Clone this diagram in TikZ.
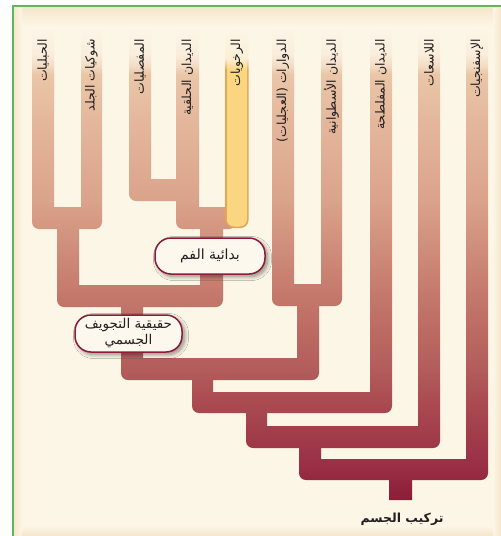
\documentclass[tikz,border=0pt]{standalone}
\usepackage{fontspec}
\newfontfamily\arabicfont[Script=Arabic]{DejaVu Sans}
\TeXXeTstate=1
\usetikzlibrary{shadows.blur}
\definecolor{framegreen}{HTML}{5CB85C}
\definecolor{paper}{HTML}{FCF6E6}
\definecolor{paperedge}{HTML}{F5E5C9}
\definecolor{boxred}{HTML}{8E1B3C}
\definecolor{boxfill}{HTML}{FDF8EE}
\definecolor{inktext}{HTML}{231F20}
\definecolor{cladetop}{HTML}{FCF5E6}
\definecolor{cladewhite}{HTML}{FAEEDD}
\definecolor{cladepale}{HTML}{F3DCC4}
\definecolor{cladelight}{HTML}{EAC6A7}
\definecolor{cladesand}{HTML}{E4B79C}
\definecolor{cladetan}{HTML}{DAA38B}
\definecolor{cladeclay}{HTML}{C4786B}
\definecolor{claderust}{HTML}{B25C5B}
\definecolor{cladebrick}{HTML}{AA4C52}
\definecolor{cladewine}{HTML}{982D44}
\definecolor{cladedeep}{HTML}{8C1C37}
\definecolor{molluscpale}{HTML}{FBF0D6}
\definecolor{mollusc}{HTML}{FAD680}
\definecolor{molluscedge}{HTML}{E6A456}
\pgfdeclareverticalshading{cladeshade}{100bp}{color(0bp)=(cladedeep); color(25bp)=(cladedeep); color(28.2bp)=(cladewine); color(35.6bp)=(cladebrick); color(38.8bp)=(claderust); color(46.8bp)=(cladeclay); color(56.9bp)=(cladetan); color(65.4bp)=(cladesand); color(70.3bp)=(cladelight); color(71.2bp)=(cladepale); color(72.5bp)=(cladewhite); color(75bp)=(cladetop); color(100bp)=(cladetop)}
\pgfdeclareverticalshading{molluscfill}{100bp}{color(0bp)=(mollusc); color(64.9bp)=(mollusc); color(67.9bp)=(molluscpale); color(75bp)=(cladetop); color(100bp)=(cladetop)}
\pgfdeclareverticalshading{molluscrim}{100bp}{color(0bp)=(molluscedge); color(64.9bp)=(molluscedge); color(67.9bp)=(molluscpale); color(75bp)=(cladetop); color(100bp)=(cladetop)}
\tikzset{
  leaflbl/.style={font=\arabicfont\fontsize{12.5}{14}\selectfont, text=inktext, rotate=90, anchor=east, inner sep=0pt},
  clade/.style={draw=boxred, line width=1.5pt, fill=boxfill, rounded corners=16pt, align=center, inner sep=2pt,
                font=\arabicfont\fontsize{13.5}{17}\selectfont, text=inktext,
                blur shadow={shadow xshift=2.5pt, shadow yshift=-2.5pt, shadow blur steps=10, shadow blur radius=4pt, shadow opacity=45}},
}
\begin{document}
\begin{tikzpicture}[x=1pt, y=-1pt]
  \useasboundingbox (0,0) rectangle (501,536);
  \fill[white] (0,0) rectangle (501,536);
  \fill[paper] (13,6) rectangle (501,536);
  \shade[top color=paperedge, bottom color=paper] (13,6) rectangle (501,26);
  \shade[top color=paper, bottom color=paperedge] (13,526) rectangle (501,536);
  \shade[left color=paperedge, right color=paper] (13,6) rectangle (22,536);
  \shade[left color=paper, right color=paperedge] (493,6) rectangle (501,536);
  \draw[framegreen, line width=2pt] (12.5,536) -- (12.5,5.5) -- (501,5.5);
  \shade[shading=cladeshade]
    (32,30) rectangle (54,215) (81,30) rectangle (102,215) (129,30) rectangle (151,187)
    (176,30) rectangle (199,215) (272,30) rectangle (294,292) (321,30) rectangle (342,292)
    (370,30) rectangle (392,400) (418,30) rectangle (440,434) (466,30) rectangle (488,467)
    (57,222) rectangle (79,293) (200,222) rectangle (223,293) (121,300) rectangle (143,366)
    (297,299) rectangle (319,366) (192,373) rectangle (213,400) (246,406) rectangle (267,434)
    (299,441) rectangle (321,467) (389,473) rectangle (412,500)
    [rounded corners=7pt]
    (32,207) rectangle (102,229) (129,179) rectangle (199,201) (176,207) rectangle (236,229)
    (57,285) rectangle (223,307) (272,284) rectangle (342,306) (121,358) rectangle (319,380)
    (192,392) rectangle (392,413) (246,426) rectangle (440,448) (299,459) rectangle (488,480);
  \shade[shading=molluscrim, rounded corners=8pt] (225.5,30) rectangle (248.5,228);
  \shade[shading=molluscfill, rounded corners=7pt] (227,30) rectangle (247,226.5);
  \foreach \i/\x/\t in {1/43/الحبليات, 2/91.5/شوكيات الجلد, 3/140/المفصليات, 4/187.5/الديدان الحلقية, 5/237/الرخويات,
                        6/283/الدوارات (العجليات), 7/331.5/الديدان الأسطوانية, 8/381/الديدان المفلطحة, 9/429/اللاسعات, 10/477/الإسفنجيات}
    \node[leaflbl] (leaf\i) at (\x,39) {\beginR\t\endR};
  \node[clade, minimum width=110pt, minimum height=36pt, font=\arabicfont\fontsize{14}{17}\selectfont] (proto) at (210,256) {\beginR بدائية الفم\endR};
  \node[clade, minimum width=107pt, minimum height=37pt] (coelom) at (128.5,333.5) {\beginR حقيقية التجويف\endR\\[-1pt]\beginR الجسمي\endR};
  \node[font=\arabicfont\bfseries\fontsize{12.5}{14}\selectfont, text=inktext] (plan) at (402,519) {\beginR تركيب الجسم\endR};
\end{tikzpicture}
\end{document}
